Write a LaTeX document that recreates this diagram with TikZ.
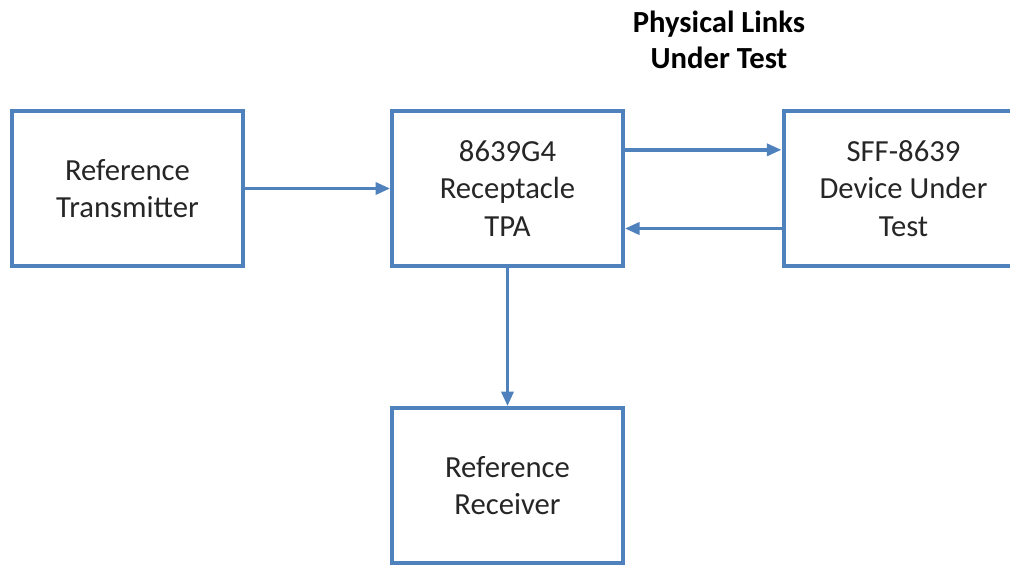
\documentclass[tikz,border=0pt]{standalone}
\usepackage{fontspec}
\setmainfont{Carlito}
\usepackage{tikz}
\usetikzlibrary{arrows.meta, shadows}

\definecolor{boxblue}{RGB}{79,129,189}
\definecolor{textgray}{RGB}{38,38,38}

\begin{document}
\begin{tikzpicture}[x=0.75pt,y=-0.75pt]
\useasboundingbox (0,0) rectangle (1010,567);
\begin{scope}[every node/.style={draw=boxblue,line width=3pt,fill=white,
    minimum width=173pt,minimum height=116pt,align=center,text=textgray,
    font=\fontsize{23}{28}\selectfont,
    drop shadow={shadow xshift=1.5pt,shadow yshift=-1.5pt,fill=black!30,opacity=.6}}]
    \node (tx) at (127.5,188.5) {Reference\\Transmitter};
    \node (tpa) at (507.5,188.5) {8639G4\\Receptacle\\TPA};
    \node (dut) at (903.5,188.5) [minimum width=180pt] {SFF-8639\\Device Under\\Test};
    \node (rx) at (507.5,485.5) {Reference\\Receiver};
\end{scope}
\begin{scope}[every path/.style={draw=boxblue,line width=2.6pt,-{Triangle[length=11pt,width=9pt]}}]
    \path (tx) -- (tpa);
    \path ([yshift=29pt]tpa.east) -- ([yshift=29pt]dut.west);
    \path ([yshift=-30pt]dut.west) -- ([yshift=-30pt]tpa.east);
    \path (tpa) -- (rx);
\end{scope}
    \node (title) at (719,40) [align=center,font=\bfseries\fontsize{23}{27}\selectfont] {Physical Links\\Under Test};
\end{tikzpicture}
\end{document}
